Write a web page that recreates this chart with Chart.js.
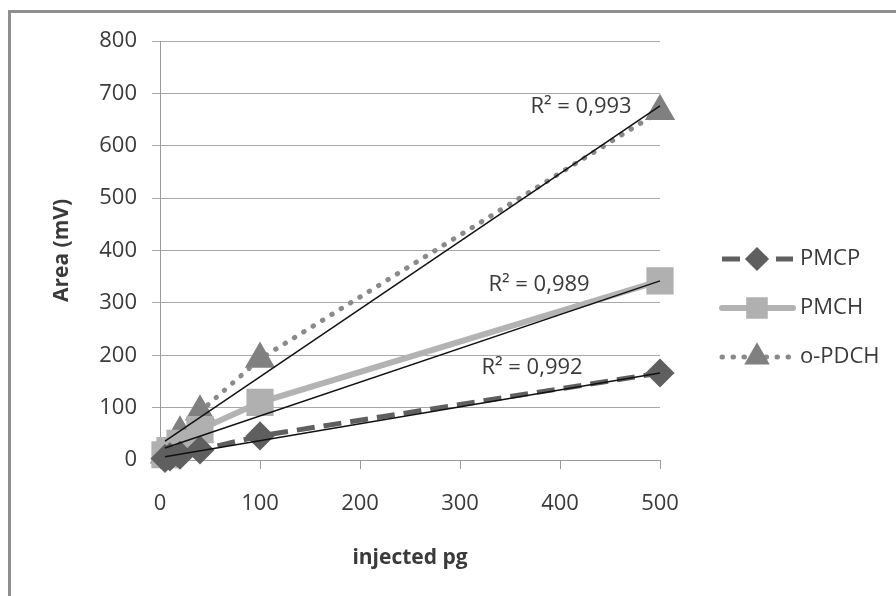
<!DOCTYPE html>
<html>
<head>
<meta charset="utf-8">
<script src="https://cdn.jsdelivr.net/npm/chart.js@4/dist/chart.umd.min.js"></script>
<style>
  html, body { margin: 0; padding: 0; background: #fff; }
  #wrap { width: 896px; height: 596px; }
</style>
</head>
<body>
<div id="wrap"><canvas id="myChart" width="896" height="596"></canvas></div>
<script>
const injected = [5, 10, 20, 40, 100, 500];
const pmcp = [3, 6, 9, 19, 46, 166];
const pmch = [10, 18, 32, 58, 110, 342];
const opdch = [10, 22, 52, 92, 193, 666];

// trendline ends, read at x = 5 and x = 500
const trendX = [5, 500];
const trendPmcp = [6, 166];
const trendPmch = [23, 342];
const trendOpdch = [36, 676];

const rSquared = [
  { text: 'R\u00B2 = 0,993', x: 421, y: 674 },
  { text: 'R\u00B2 = 0,989', x: 379, y: 335 },
  { text: 'R\u00B2 = 0,992', x: 372, y: 176 }
];

const textColor = '#3a3a3a';
const fontFamily = '"Open Sans", "Noto Sans", sans-serif';

function points(xs, ys) {
  return xs.map((x, i) => ({ x: x, y: ys[i] }));
}

function trend(ys) {
  return {
    label: '',
    isTrend: true,
    data: points(trendX, ys),
    borderColor: '#111',
    borderWidth: 1.5,
    pointRadius: 0,
    clip: false,
    order: 0
  };
}

const frame = {
  id: 'frame',
  beforeDraw(chart) {
    const c = chart.ctx;
    c.save();
    c.fillStyle = '#fff';
    c.fillRect(0, 0, chart.width, chart.height);
    c.strokeStyle = '#8e8e8e';
    c.lineWidth = 3;
    c.strokeRect(9.5, 11.5, 900, 600);
    c.restore();
  }
};

const labels = {
  id: 'labels',
  afterDraw(chart) {
    const c = chart.ctx;
    const xs = chart.scales.x, ys = chart.scales.y;
    c.save();
    c.font = '22px ' + fontFamily;
    c.fillStyle = textColor;
    c.textAlign = 'center';
    c.textBaseline = 'middle';
    rSquared.forEach(r => {
      c.fillText(r.text, xs.getPixelForValue(r.x), ys.getPixelForValue(r.y));
    });

    // legend: line sample with marker, like the spreadsheet one
    let y = 259;
    chart.data.datasets.filter(d => !d.isTrend).forEach(d => {
      c.save();
      c.strokeStyle = d.borderColor;
      c.lineWidth = d.borderWidth;
      c.lineCap = d.borderCapStyle || 'butt';
      c.setLineDash(d.borderDash || []);
      c.beginPath();
      c.moveTo(722, y);
      c.lineTo(793, y);
      c.stroke();
      c.restore();
      c.fillStyle = d.pointBackgroundColor;
      c.strokeStyle = d.pointBorderColor;
      Chart.helpers.drawPoint(c, {
        pointStyle: d.pointStyle, rotation: 0,
        radius: d.pointRadius * 0.78, borderWidth: 1
      }, 757, y);
      c.fillStyle = textColor;
      c.textAlign = 'left';
      c.fillText(d.label, 800, y);
      y += 49;
    });
    c.restore();
  }
};

const ctx = document.getElementById('myChart').getContext('2d');

new Chart(ctx, {
  type: 'line',
  data: {
    datasets: [
      trend(trendPmcp),
      trend(trendPmch),
      trend(trendOpdch),
      {
        label: 'PMCP',
        data: points(injected, pmcp),
        borderColor: '#5f5f5f',
        borderWidth: 5,
        borderDash: [18, 9],
        pointStyle: 'rectRot',
        pointRadius: 11,
        pointBackgroundColor: '#5f5f5f',
        pointBorderColor: '#5f5f5f',
        clip: false,
        order: 1
      },
      {
        label: 'PMCH',
        data: points(injected, pmch),
        borderColor: '#b3b3b3',
        borderWidth: 6,
        borderCapStyle: 'round',
        pointStyle: 'rect',
        pointRadius: 15,
        pointBackgroundColor: '#b0b0b0',
        pointBorderColor: '#b0b0b0',
        clip: false,
        order: 1
      },
      {
        label: 'o-PDCH',
        data: points(injected, opdch),
        borderColor: '#8a8a8a',
        borderWidth: 5,
        borderDash: [0.5, 10.5],
        borderCapStyle: 'round',
        pointStyle: 'triangle',
        pointRadius: 12.5,
        pointBackgroundColor: '#808080',
        pointBorderColor: '#808080',
        clip: false,
        order: 1
      }
    ]
  },
  options: {
    responsive: false,
    animation: false,
    layout: { padding: { left: 0, right: 236, top: 41, bottom: 0 } },
    plugins: {
      legend: { display: false },
      tooltip: { enabled: false }
    },
    scales: {
      x: {
        type: 'linear',
        min: 0,
        max: 500,
        afterFit: s => { s.height = 136; },
        ticks: { stepSize: 100, color: textColor, padding: 22, font: { size: 22, family: fontFamily } },
        grid: { drawOnChartArea: false, tickLength: 9, color: '#9a9a9a' },
        border: { color: '#9a9a9a' },
        title: {
          display: true,
          text: 'injected pg',
          color: textColor,
          padding: { top: 0, bottom: 25 },
          font: { size: 21, weight: 'bold', family: fontFamily }
        }
      },
      y: {
        min: 0,
        max: 800,
        afterFit: s => { s.width = 160; },
        ticks: { stepSize: 100, color: textColor, padding: 15, font: { size: 22, family: fontFamily } },
        grid: { tickLength: 8, color: '#a8a8a8' },
        border: { color: '#9a9a9a' },
        title: {
          display: true,
          text: 'Area (mV)',
          color: textColor,
          padding: { top: 49, bottom: 0 },
          font: { size: 21, weight: 'bold', family: fontFamily }
        }
      }
    }
  },
  plugins: [frame, labels]
});
</script>
</body>
</html>
